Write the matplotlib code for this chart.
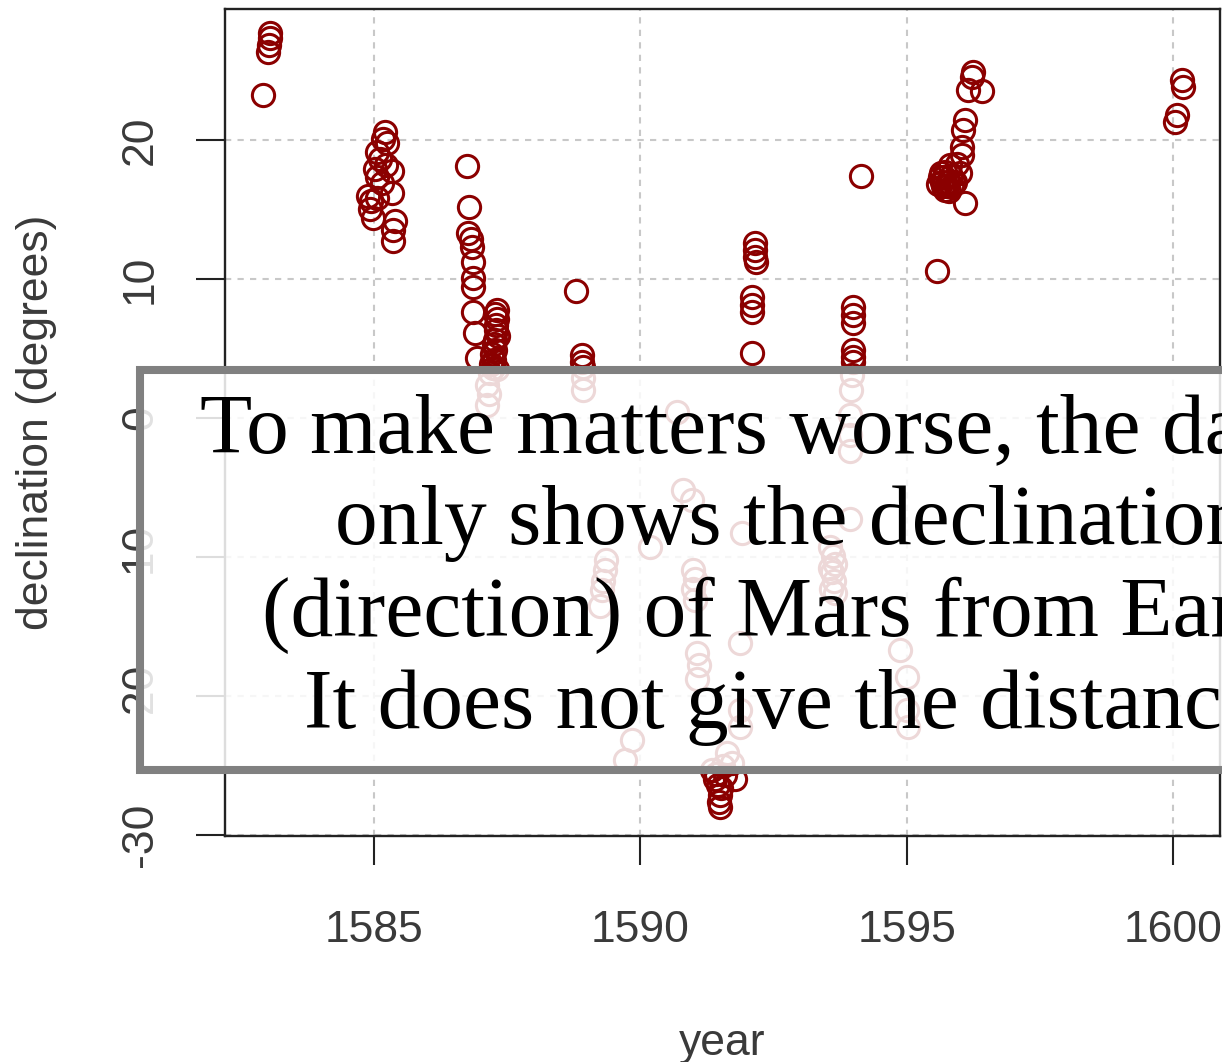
import matplotlib.pyplot as plt
from matplotlib.patches import Rectangle

plt.rcParams['font.family'] = ['Liberation Sans', 'DejaVu Sans']

# Observed declination of Mars (degrees) against decimal year
year = [
    1582.92, 1583.05, 1583.04, 1583.02, 1583.01,
    1585.21, 1585.17, 1585.24, 1585.06, 1585.11, 1585.34, 1585.06, 1585.14,
    1584.89, 1585.34, 1585.06, 1584.92, 1584.98, 1585.39, 1585.36, 1585.36,
    1585.02, 1585.22, 1584.95,
    1586.75, 1586.78, 1586.77, 1586.82, 1586.84, 1586.86, 1586.86, 1586.86,
    1586.86, 1586.90, 1586.93, 1587.31, 1587.31, 1587.29, 1587.27, 1587.27,
    1587.25, 1587.23, 1587.18, 1587.30, 1587.12, 1587.15, 1587.12,
    1587.27, 1587.29, 1587.25, 1587.22, 1587.33, 1587.20,
    1588.79, 1588.90, 1588.90, 1588.92, 1588.92, 1588.92,
    1589.36, 1589.33, 1589.30, 1589.27, 1589.24,
    1589.84, 1589.71, 1590.18,
    1590.69, 1590.80, 1590.97,
    1590.99, 1591.03, 1590.99, 1591.03, 1591.06, 1591.10, 1591.06,
    1591.87, 1591.87, 1591.87, 1591.91,
    1591.63, 1591.55, 1591.40, 1591.78, 1591.50, 1591.50, 1591.35, 1591.72,
    1591.45, 1591.52, 1591.58, 1591.48, 1591.42,
    1592.15, 1592.15, 1592.15, 1592.17, 1592.10, 1592.10, 1592.10, 1592.10,
    1593.56, 1593.62, 1593.66, 1593.60, 1593.64, 1593.58, 1593.66, 1593.55,
    1593.99, 1593.99, 1593.99, 1593.99, 1593.99, 1593.99, 1593.97, 1593.95,
    1593.94, 1593.94, 1593.94, 1593.94,
    1594.14,
    1594.87, 1595.01, 1595.01, 1595.03,
    1595.57,
    1596.24, 1596.22, 1596.41, 1596.15, 1596.09, 1596.06, 1596.04, 1596.04,
    1595.81, 1595.72, 1595.62, 1595.59, 1595.72, 1595.91, 1596.00, 1596.09,
    1595.66, 1595.85, 1595.95,
    1595.70, 1595.78, 1595.75, 1595.83, 1595.68, 1595.88, 1595.64, 1595.80,
    1600.16, 1600.19, 1600.07, 1600.03,
]
decl = [
    23.2, 27.7, 27.3, 26.8, 26.3,
    20.6, 20.1, 19.8, 19.1, 18.6, 17.8, 17.3, 16.9,
    16.0, 16.2, 15.8, 15.0, 14.4, 14.2, 13.5, 12.7,
    17.9, 18.2, 15.6,
    18.1, 15.2, 13.3, 12.9, 12.3, 11.2, 10.1, 9.4,
    7.6, 6.1, 4.3, 7.8, 7.1, 6.3, 5.6, 4.9,
    4.2, 3.6, 3.2, 3.5, 2.4, 1.7, 0.9,
    7.5, 6.7, 5.3, 4.6, 5.9, 3.9,
    9.1, 4.5, 4.0, 3.7, 2.9, 2.0,
    -10.2, -10.9, -11.7, -12.4, -13.5,
    -23.2, -24.6, -9.3,
    0.4, -5.2, -5.9,
    -10.9, -11.6, -12.3, -13.1, -16.9, -17.8, -18.8,
    -16.2, -21.0, -22.2, -8.3,
    -24.1, -25.0, -26.0, -26.0, -27.1, -28.0, -25.3, -24.8,
    -26.4, -26.6, -25.7, -27.6, -25.6,
    12.6, 12.1, 11.6, 11.2, 8.7, 8.1, 7.6, 4.7,
    -9.3, -9.9, -10.5, -11.1, -11.7, -12.3, -12.6, -10.8,
    8.0, 7.4, 6.8, 4.9, 4.4, 4.0, 3.1, 2.0,
    0.2, -1.2, -2.4, -7.3,
    17.4,
    -16.7, -18.6, -21.0, -22.2,
    10.6,
    24.9, 24.5, 23.5, 23.6, 21.4, 20.7, 19.5, 18.9,
    18.2, 17.7, 17.3, 16.8, 16.4, 17.0, 17.6, 15.5,
    17.0, 16.7, 18.3,
    17.3, 17.0, 16.7, 17.4, 16.7, 16.9, 17.6, 16.3,
    24.3, 23.8, 21.8, 21.3,
]

x_ticks = [1585, 1590, 1595, 1600]
y_ticks = [-30, -20, -10, 0, 10, 20]

note_lines = [
    'To make matters worse, the data',
    'only shows the declination',
    '(direction) of Mars from Earth.',
    'It does not give the distance.',
]
note_left = [200, 335, 262, 304]

W, H = 1222, 1062
fig = plt.figure(figsize=(W / 100, H / 100), dpi=100)
ax = fig.add_axes([225 / W, 1 - 836 / H, (1220 - 225) / W, (836 - 9) / H])

ax.set_xlim(1582.2, 1600.88)
ax.set_ylim(-30.07, 29.42)
ax.set_xticks(x_ticks)
ax.set_yticks(y_ticks)
ax.set_yticklabels([str(v) for v in y_ticks], rotation=90, va='center')

ax.grid(True, color='#c8c8c8', linestyle=(0, (3, 3)), linewidth=1.5)
ax.set_axisbelow(True)

ax.plot(year, decl, 'o', mfc='none', mec='#8b0000', ms=16, mew=2.2)

for s in ax.spines.values():
    s.set_linewidth(1.7)
    s.set_color('#222222')
ax.tick_params(length=21, width=1.5, color='#222222', labelsize=32, labelcolor='#3a3a3a')
ax.tick_params(axis='x', pad=32)
ax.tick_params(axis='y', pad=25)

fig.text(722.5 / W, 1 - 1055 / H, 'year', ha='center', va='baseline', fontsize=32, color='#3a3a3a')
fig.text(37 / W, 1 - 422.5 / H, 'declination (degrees)', ha='center', va='center',
         rotation=90, fontsize=32, color='#3a3a3a')

# translucent caption box laid over the plot, running off the right edge
fig.add_artist(Rectangle((140 / W, 1 - 770 / H), 1.2, 400 / H, transform=fig.transFigure,
                         facecolor=(1, 1, 1, 0.85), edgecolor='#808080', linewidth=5.8,
                         zorder=10))
for i, (line, left) in enumerate(zip(note_lines, note_left)):
    base = 451.7 + i * 92.1
    fig.text(left / W, 1 - base / H, line, ha='left', va='baseline',
             family='Liberation Serif', fontsize=61.5, color='black', zorder=11)

fig.savefig('out.png', dpi=100)
